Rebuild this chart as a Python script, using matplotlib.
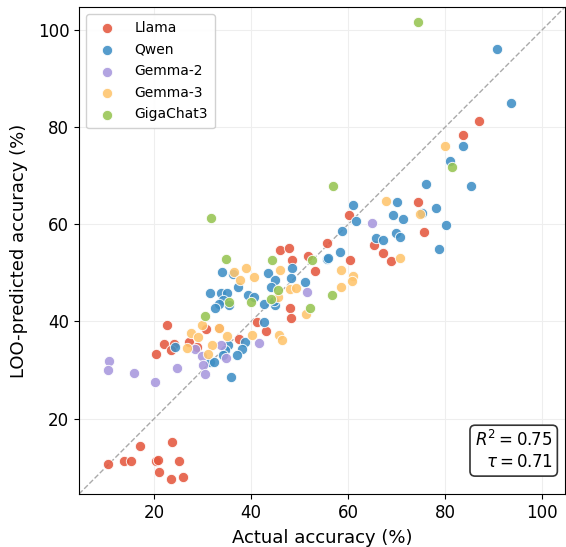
#!/usr/bin/env python
# -*- coding: utf-8 -*-
"""
LOO-predicted vs actual accuracy scatter
"""
import numpy as np
import matplotlib
matplotlib.use("Agg")
import matplotlib.pyplot as plt

# Actual / predicted accuracy (%) per model family
llama_x = [55.6, 46.0, 47.7, 48.4, 51.7, 53.1, 48.0, 48.2, 22.6, 30.7,
           33.3, 37.5, 41.1, 43.1, 22.1, 24.1, 23.4, 20.3, 27.2, 28.9,
           60.1, 60.3, 65.4, 67.1, 68.8, 74.3, 75.7, 86.9, 83.6,
           10.5, 13.8, 15.3, 17.1, 20.3, 20.8, 21.0, 23.6, 25.2, 25.9, 23.4]
llama_y = [56.2, 54.8, 55.1, 52.6, 53.5, 50.3, 42.7, 40.8, 39.3, 38.4,
           38.7, 36.4, 39.9, 38.1, 35.3, 35.4, 34.2, 33.4, 35.7, 34.7,
           61.9, 52.7, 55.8, 54.1, 52.5, 64.5, 58.4, 81.2, 78.4,
           10.7, 11.3, 11.3, 14.4, 11.2, 11.5, 9.1, 15.2, 11.3, 8.0, 7.5]

qwen_x = [55.7, 34.0, 36.3, 37.2, 43.4, 48.5, 45.0, 48.2, 51.1, 44.1,
          42.7, 45.0, 44.7, 31.5, 33.7, 35.0, 34.1, 33.4, 32.5, 35.5,
          39.4, 40.5, 38.7, 42.7, 24.3, 35.3, 34.5, 38.2, 37.1, 34.2,
          31.5, 32.4, 35.8, 60.9, 61.6, 58.7, 58.3, 55.9, 65.8, 67.2,
          69.8, 70.6, 69.3, 71.4, 70.1, 75.3, 78.2, 80.1, 78.7, 76.1,
          85.3, 81.0, 90.7, 93.5, 83.7]
qwen_y = [52.9, 50.1, 49.7, 47.1, 49.9, 50.9, 48.6, 48.9, 48.1, 47.1,
          43.5, 43.3, 44.3, 45.9, 45.8, 45.8, 44.5, 43.5, 42.7, 43.4,
          45.5, 45.0, 35.8, 39.8, 34.7, 35.2, 34.2, 34.3, 33.1, 33.0,
          31.7, 31.7, 28.5, 63.9, 60.6, 58.6, 54.2, 53.0, 57.2, 56.8,
          58.2, 57.3, 61.9, 61.1, 64.5, 62.4, 63.4, 59.8, 55.0, 68.2,
          67.8, 73.1, 96.1, 84.9, 76.1]

gemma2_x = [51.5, 41.7, 28.5, 33.8, 34.8, 29.8, 30.0, 30.4, 24.7, 15.8,
            10.6, 10.4, 20.1, 65.0]
gemma2_y = [46.0, 35.6, 34.4, 35.1, 32.4, 32.9, 31.0, 29.1, 30.4, 29.3,
            31.9, 30.0, 27.6, 60.3]

gemma3_x = [36.5, 39.0, 37.7, 40.5, 46.0, 48.0, 49.3, 45.6, 51.2, 29.9,
            33.3, 27.6, 29.0, 35.0, 40.1, 45.8, 46.4, 26.7, 32.0, 31.1,
            58.6, 61.0, 60.7, 58.6, 70.7, 67.8, 74.9, 79.9]
gemma3_y = [50.2, 51.1, 48.5, 49.1, 50.5, 46.7, 46.8, 45.1, 41.6, 39.2,
            38.7, 37.7, 36.7, 37.0, 37.3, 37.3, 36.1, 34.5, 35.1, 33.3,
            50.6, 49.3, 48.4, 47.0, 53.0, 64.7, 62.2, 76.2]

giga_x = [31.7, 52.6, 34.9, 44.3, 45.6, 44.1, 56.6, 52.2, 35.4, 39.9,
          30.4, 56.9, 74.4, 81.4]
giga_y = [61.2, 52.6, 52.9, 52.7, 46.4, 44.7, 45.4, 42.7, 44.1, 44.1,
          41.2, 67.9, 101.7, 71.7]

families = ["Llama", "Qwen", "Gemma-2", "Gemma-3", "GigaChat3"]
colors = ["#e4583f", "#3f8fc5", "#a898dd", "#fec46c", "#96c452"]
r2 = 0.75
tau = 0.71


def plot_scatter():
    series = [(llama_x, llama_y), (qwen_x, qwen_y), (gemma2_x, gemma2_y),
              (gemma3_x, gemma3_y), (giga_x, giga_y)]

    fig = plt.figure(figsize=(5.66, 5.47), dpi=100)
    ax = fig.add_axes([79 / 566, 53 / 547, 486 / 566, 487 / 547])

    for (xs, ys), name, col in zip(series, families, colors):
        ax.scatter(xs, ys, s=55, color=col, alpha=0.88, edgecolor="white",
                   linewidth=0.7, label=name, zorder=3)

    # shared limits with a small margin around all points
    all_vals = np.concatenate([np.r_[xs, ys] for xs, ys in series])
    lo = all_vals.min() - 3
    hi = all_vals.max() + 3
    ax.plot([lo, hi], [lo, hi], color="#aaaaaa", linestyle="--",
            linewidth=1.0, zorder=1)
    ax.set_xlim(lo, hi)
    ax.set_ylim(lo, hi)

    ax.set_xticks([20, 40, 60, 80, 100])
    ax.set_yticks([20, 40, 60, 80, 100])
    ax.tick_params(labelsize=12)
    ax.grid(True, color="#eeeeee", linewidth=0.8, zorder=0)
    ax.set_axisbelow(True)

    ax.set_xlabel("Actual accuracy (%)", fontsize=13, labelpad=5)
    ax.set_ylabel("LOO-predicted accuracy (%)", fontsize=13, labelpad=7)

    ax.legend(loc="upper left", fontsize=10, framealpha=0.9,
              borderpad=0.5, handletextpad=1.0, labelspacing=0.55)

    ax.text(0.974, 0.047, "$R^2 = %.2f$\n$\\tau = %.2f$" % (r2, tau),
            transform=ax.transAxes, ha="right", va="bottom",
            multialignment="right", fontsize=12,
            bbox=dict(boxstyle="round,pad=0.3", facecolor="white",
                      edgecolor="#333333", linewidth=1.2))

    fig.savefig("out.png", dpi=100)


if __name__ == '__main__':
    plot_scatter()
